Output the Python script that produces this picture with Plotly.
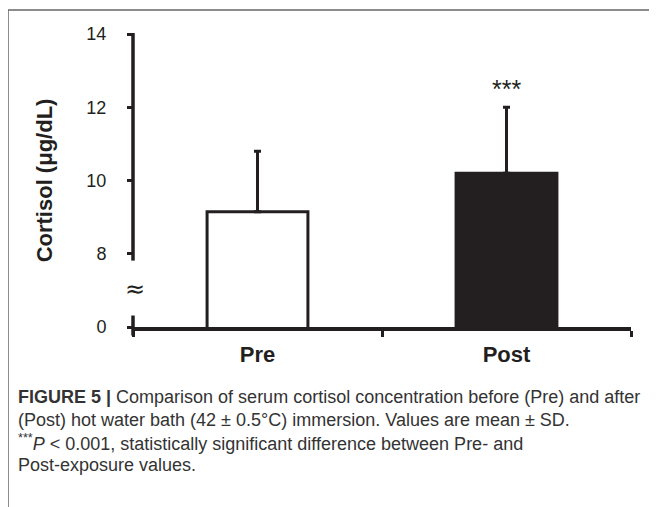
import plotly.graph_objects as go

# ---- data ----
categories = ["Pre", "Post"]
cortisol_mean = [9.15, 10.2]
cortisol_sd = [1.65, 1.8]
bar_colors = ["#ffffff", "#231f20"]
ytick_labels = ["0", "8", "10", "12", "14"]
ytick_vals = [6, 8, 10, 12, 14]   # 0 drawn at the axis break (6)
significance = ["", "***"]

OFF = 8  # page body margin
W, H = 657 - OFF, 507 - OFF
# plot area in screen pixels
SX0, SX1, SY0, SY1 = 133, 631, 34, 327.5
L, R, T, B = SX0 - OFF, W - (SX1 - OFF), SY0 - OFF, H - (SY1 - OFF)

def px(x):   # screen x -> paper
    return (x - SX0) / (SX1 - SX0)

def py(y):   # screen y -> paper
    return (SY1 - y) / (SY1 - SY0)

INK = "#231f20"
FONT = "Liberation Sans, Arial, sans-serif"

fig = go.Figure()
fig.add_trace(go.Bar(
    x=[0, 1], y=cortisol_mean, width=0.405,
    marker=dict(color=bar_colors, line=dict(color=INK, width=3)),
    error_y=dict(type="data", array=cortisol_sd, arrayminus=[0, 0], symmetric=False,
                 color=INK, thickness=3, width=3.5),
    showlegend=False, hoverinfo="skip",
))

for i, s in enumerate(significance):
    if s:
        fig.add_annotation(x=i, y=cortisol_mean[i] + cortisol_sd[i], text=s,
                           showarrow=False, yanchor="bottom", yshift=2,
                           font=dict(family=FONT, size=25, color=INK))

fig.update_xaxes(
    range=[-0.5, 1.5], tickvals=[0, 1], ticktext=[f"<b>{c}</b>" for c in categories],
    ticks="", showline=True, linecolor=INK, linewidth=3.5,
    minor=dict(ticks="outside", tick0=0.5, dtick=1, ticklen=6, tickwidth=3, tickcolor=INK, showgrid=False),
    tickfont=dict(family=FONT, size=22, color=INK), ticklabelstandoff=5,
    showgrid=False, zeroline=False, fixedrange=True,
)
fig.update_yaxes(
    range=[6, 14], tickvals=ytick_vals, ticktext=ytick_labels,
    ticks="outside", ticklen=5, tickwidth=3, tickcolor=INK,
    showline=False, showgrid=False, zeroline=False,
    tickfont=dict(family=FONT, size=18, color=INK), ticklabelstandoff=17,
    title=dict(text="<b>Cortisol (μg/dL)</b>", font=dict(family=FONT, size=22, color=INK), standoff=27),
)

# broken y axis line
fig.add_shape(type="line", xref="paper", yref="paper", x0=0, x1=0, y0=py(261), y1=py(33),
              line=dict(color=INK, width=3.5))
fig.add_shape(type="line", xref="paper", yref="paper", x0=0, x1=0, y0=py(336), y1=py(316),
              line=dict(color=INK, width=3.5))
fig.add_annotation(xref="paper", yref="paper", x=px(135), y=py(289), text="≈", showarrow=False,
                   font=dict(family="DejaVu Sans, sans-serif", size=24, color=INK),
                   xanchor="center", yanchor="middle")

# frame
fig.add_shape(type="line", xref="paper", yref="paper", x0=px(8), x1=px(8), y0=py(520), y1=py(10),
              line=dict(color="#666666", width=1.5))
fig.add_shape(type="line", xref="paper", yref="paper", x0=px(8), x1=px(670), y0=py(10), y1=py(10),
              line=dict(color="#666666", width=1.5))

caption = [
    "<b>FIGURE 5 |</b> Comparison of serum cortisol concentration before (Pre) and after",
    "(Post) hot water bath (42 ± 0.5°C) immersion. Values are mean ± SD.",
    "<sup>***</sup><i>P</i> &lt; 0.001, statistically significant difference between Pre- and",
    "Post-exposure values.",
]
for line, yc in zip(caption, [398, 421, 443.5, 466]):
    fig.add_annotation(xref="paper", yref="paper", x=px(16), y=py(yc), text=line, showarrow=False,
                       xanchor="left", yanchor="middle", align="left",
                       font=dict(family=FONT, size=18, color="#333333"))

fig.update_layout(
    width=W, height=H, margin=dict(l=L, r=R, t=T, b=B, autoexpand=False),
    paper_bgcolor="white", plot_bgcolor="white",
)
fig.write_html("out.html")
